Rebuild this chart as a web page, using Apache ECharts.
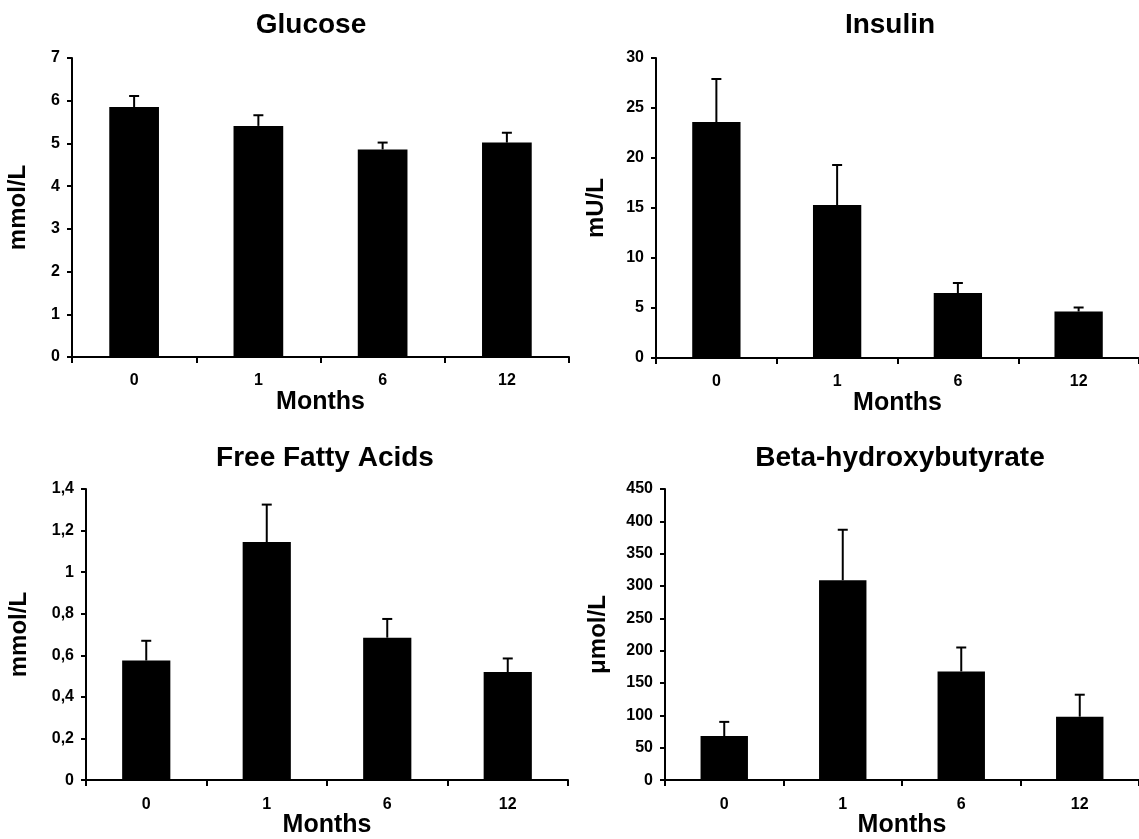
<!DOCTYPE html>
<html>
<head>
<meta charset="utf-8">
<script src="https://cdn.jsdelivr.net/npm/echarts@6/dist/echarts.min.js"></script>
<style>
html,body{margin:0;padding:0;background:#fff;}
#chart{width:1139px;height:839px;}
</style>
</head>
<body>
<div id="chart"></div>
<script>
const categories = ['0', '1', '6', '12'];

const glucoseMean = [5.85, 5.41, 4.86, 5.02];
const glucoseErr  = [0.26, 0.25, 0.16, 0.23];
const insulinMean = [23.6, 15.3, 6.5, 4.65];
const insulinErr  = [4.3, 4.0, 1.0, 0.4];
const ffaMean     = [0.575, 1.145, 0.685, 0.52];
const ffaErr      = [0.095, 0.18, 0.09, 0.065];
const bhbMean     = [68, 309, 168, 98];
const bhbErr      = [22, 78, 37, 34];

const glucoseTicks = [0, 1, 2, 3, 4, 5, 6, 7];
const insulinTicks = [0, 5, 10, 15, 20, 25, 30];
const ffaTicks     = [0, 0.2, 0.4, 0.6, 0.8, 1, 1.2, 1.4];
const ffaTickLabels = ['0', '0,2', '0,4', '0,6', '0,8', '1', '1,2', '1,4'];
const bhbTicks     = [0, 50, 100, 150, 200, 250, 300, 350, 400, 450];

const titles = ['Glucose', 'Insulin', 'Free Fatty Acids', 'Beta-hydroxybutyrate'];
const yNames = ['mmol/L', 'mU/L', 'mmol/L', 'μmol/L'];
const xName = 'Months';

const FONT = '"Liberation Sans", Arial, sans-serif';

const panels = [
  {mean: glucoseMean, err: glucoseErr, ticks: glucoseTicks, labels: null,
   grid: {left: 72, top: 58, width: 497, height: 299}, title: [311, 25], nameGap: 42, xGap: 33},
  {mean: insulinMean, err: insulinErr, ticks: insulinTicks, labels: null,
   grid: {left: 656, top: 58, width: 483, height: 300}, title: [890, 25], nameGap: 48, xGap: 33},
  {mean: ffaMean, err: ffaErr, ticks: ffaTicks, labels: ffaTickLabels,
   grid: {left: 86, top: 489, width: 482, height: 296}, title: [325, 458], nameGap: 55, xGap: 30},
  {mean: bhbMean, err: bhbErr, ticks: bhbTicks, labels: null,
   grid: {left: 665, top: 489, width: 474, height: 296}, title: [900, 458], nameGap: 55, xGap: 30}
];

const option = {
  backgroundColor: '#ffffff',
  animation: false,
  textStyle: {fontFamily: FONT},
  graphic: [],
  grid: [], xAxis: [], yAxis: [], series: []
};

panels.forEach((p, k) => {
  option.graphic.push({
    type: 'text', x: p.title[0], y: p.title[1],
    style: {text: titles[k], textAlign: 'center', textVerticalAlign: 'middle',
            font: 'bold 28px ' + FONT, fill: '#000'}
  });
  option.grid.push(Object.assign({containLabel: false}, p.grid));
  option.xAxis.push({
    type: 'category', gridIndex: k, data: categories,
    name: xName, nameLocation: 'middle', nameGap: p.xGap,
    nameTextStyle: {fontFamily: FONT, fontWeight: 'bold', fontSize: 25, color: '#000'},
    axisLine: {lineStyle: {color: '#000', width: 2}},
    axisTick: {show: true, length: 6, lineStyle: {color: '#000', width: 2}},
    axisLabel: {fontFamily: FONT, fontWeight: 'bold', fontSize: 16, color: '#000', margin: 16},
    splitLine: {show: false}
  });
  const t = p.ticks;
  const labels = p.labels;
  option.yAxis.push({
    type: 'value', gridIndex: k,
    min: t[0], max: t[t.length - 1], interval: t[1] - t[0],
    name: yNames[k], nameLocation: 'middle', nameGap: p.nameGap, nameRotate: 90,
    nameTextStyle: {fontFamily: FONT, fontWeight: 'bold', fontSize: 24, color: '#000'},
    axisLine: {show: true, lineStyle: {color: '#000', width: 2}},
    axisTick: {show: true, length: 5, lineStyle: {color: '#000', width: 2}},
    axisLabel: {
      fontFamily: FONT, fontWeight: 'bold', fontSize: 16, color: '#000', margin: 12,
      formatter: function (v) {
        if (labels) {
          let best = 0;
          for (let i = 0; i < t.length; i++) if (Math.abs(t[i] - v) < Math.abs(t[best] - v)) best = i;
          return labels[best];
        }
        return String(v);
      }
    },
    splitLine: {show: false}
  });
  option.series.push({
    type: 'bar', xAxisIndex: k, yAxisIndex: k,
    data: p.mean, barWidth: '40%',
    itemStyle: {color: '#000'}
  });
  option.series.push({
    type: 'custom', xAxisIndex: k, yAxisIndex: k, z: 5,
    data: p.mean.map((m, i) => [i, m, p.err[i]]),
    encode: {x: 0, y: 1},
    renderItem: function (params, api) {
      const i = api.value(0);
      const m = api.value(1);
      const e = api.value(2);
      const base = api.coord([i, m]);
      const top = api.coord([i, m + e]);
      const hw = 5;
      const st = {stroke: '#000', lineWidth: 2};
      return {
        type: 'group',
        children: [
          {type: 'line', shape: {x1: base[0], y1: base[1], x2: top[0], y2: top[1]}, style: st},
          {type: 'line', shape: {x1: top[0] - hw, y1: top[1], x2: top[0] + hw, y2: top[1]}, style: st}
        ]
      };
    }
  });
});

const chart = echarts.init(document.getElementById('chart'), null, {renderer: 'canvas'});
chart.setOption(option);
</script>
</body>
</html>
